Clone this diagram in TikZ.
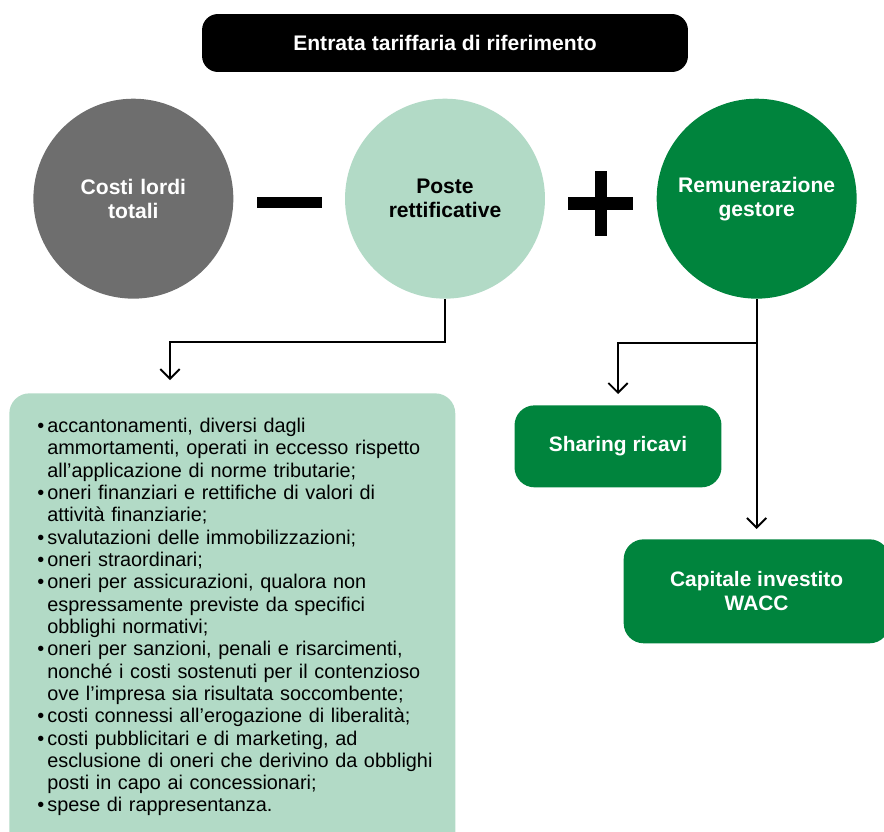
\documentclass[tikz,border=0pt]{standalone}
\usepackage{fontspec}
\setmainfont{Liberation Sans}
\usepackage{xcolor}
\usepackage{tikz}
\usetikzlibrary{arrows.meta,positioning,calc}

\definecolor{grigio}{HTML}{6E6E6E}
\definecolor{verdechiaro}{HTML}{B2DAC6}
\definecolor{verdescuro}{HTML}{00843D}

\newcommand{\voce}[1]{\par\hangindent=0.2cm\hangafter=1\noindent\makebox[0.2cm][l]{\textbullet}#1}

\begin{document}
\begin{tikzpicture}[
  x=0.02cm, y=-0.02cm,
  node distance=2.22cm,
  cerchio/.style={circle, minimum size=4cm, inner sep=0pt, align=center, text width=3.8cm,
    font=\bfseries\fontsize{12}{13.6}\selectfont},
  scatola/.style={rounded corners=0.4cm, fill=verdescuro, text=white, align=center,
    font=\bfseries\fontsize{11.9}{13.6}\selectfont},
  segno/.style={fill=black, inner sep=0pt},
  arr/.style={-{Straight Barb[length=5.5pt,width=11pt]}, line width=1.1pt}
]
\useasboundingbox (0,0) rectangle (884,831);
\node[fill=black, text=white, rounded corners=0.32cm, minimum width=9.72cm, minimum height=1.16cm,
  font=\bfseries\fontsize{12}{13}\selectfont] (titolo) at (445,43) {Entrata tariffaria di riferimento};
\node[cerchio, fill=verdechiaro, below=0.52cm of titolo] (poste) {Poste\\rettificative};
\node[cerchio, fill=grigio, text=white, left=of poste] (costi) {Costi lordi\\totali};
\node[cerchio, fill=verdescuro, text=white, right=of poste] (remun) {Remunerazione\\gestore};

\node[segno, minimum width=1.3cm, minimum height=0.22cm] (meno) at ($(costi)!0.5!(poste)+(0,4)$) {};
\node[segno, minimum width=1.3cm, minimum height=0.26cm] (piu) at ($(poste)!0.5!(remun)+(0,5)$) {};
\node[segno, minimum width=0.24cm, minimum height=1.3cm] (piuv) at (piu) {};

\node[fill=verdechiaro, rounded corners=0.4cm, minimum width=8.92cm, minimum height=9.6cm,
  anchor=north west] (riquadro) at (9,393) {};
\node[anchor=north west, text width=8.4cm, inner sep=0pt, font=\fontsize{11.3}{12.7}\selectfont] (lista) at (37,410) {%
\voce{accantonamenti, diversi dagli\newline ammortamenti, operati in eccesso rispetto\newline all’applicazione di norme tributarie;}
\voce{oneri finanziari e rettifiche di valori di\newline attività finanziarie;}
\voce{svalutazioni delle immobilizzazioni;}
\voce{oneri straordinari;}
\voce{oneri per assicurazioni, qualora non\newline espressamente previste da specifici\newline obblighi normativi;}
\voce{oneri per sanzioni, penali e risarcimenti,\newline nonché i costi sostenuti per il contenzioso\newline ove l’impresa sia risultata soccombente;}
\voce{costi connessi all’erogazione di liberalità;}
\voce{costi pubblicitari e di marketing, ad\newline esclusione di oneri che derivino da obblighi\newline posti in capo ai concessionari;}
\voce{spese di rappresentanza.}};

\node[scatola, minimum width=4.14cm, minimum height=1.64cm, anchor=north] (sharing) at (618,405) {Sharing ricavi};
\node[scatola, minimum width=5.32cm, minimum height=2.08cm, below=4.8cm of remun] (capitale) {Capitale investito\\WACC};

\coordinate (punta) at (170,380);
\coordinate (bivio) at ($(remun.south)+(0,44)$);
\draw[arr] (poste.south) -- ++(0,43) -| (punta);
\draw[arr, shorten >=0.2cm] (remun.south) -- (capitale.north);
\draw[arr, shorten >=0.22cm] (bivio) -| (sharing.north);
\end{tikzpicture}
\end{document}
